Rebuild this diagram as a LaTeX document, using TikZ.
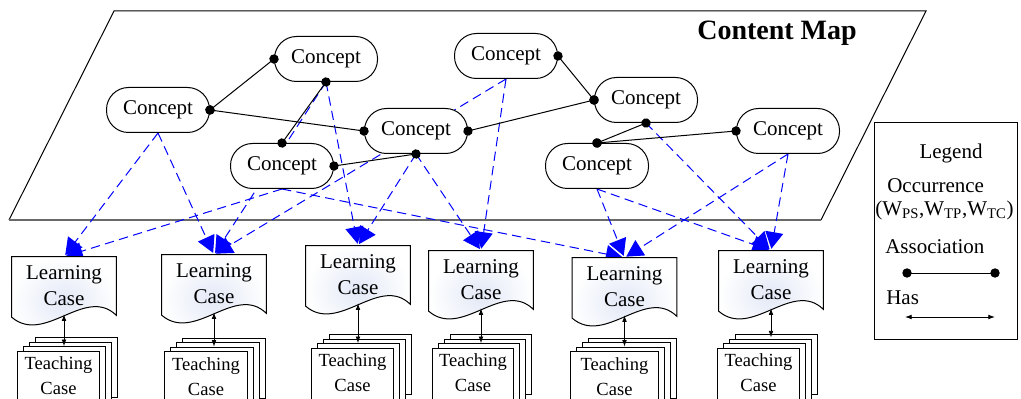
\documentclass[tikz,border=0pt]{standalone}
\usepackage{fontspec}
\setmainfont{Liberation Serif}
\usetikzlibrary{arrows.meta,calc}
\pgfdeclarelayer{back}
\pgfsetlayers{back,main}

\definecolor{occblue}{RGB}{0,0,255}
\definecolor{lcfill}{RGB}{226,232,246}
\definecolor{mapedge}{RGB}{105,105,105}

\begin{document}
\begin{tikzpicture}[x=0.75pt,y=-0.75pt,
  font=\fontsize{15.75}{19.5}\selectfont,
  concept/.style={draw, fill=white, line width=0.75pt, rounded corners=16.5pt,
    minimum width=77.25pt, minimum height=33.75pt, inner sep=0pt},
  lcase/.style={minimum width=78pt, minimum height=42.75pt, inner sep=0pt,
    align=center},
  tcase/.style={minimum height=36.75pt, inner sep=0pt, align=center,
    font=\fontsize{13.9}{18.75}\selectfont},
  doc/.style={draw, line width=0.75pt, inner color=lcfill, outer color=white},
  page/.style={draw, fill=white, line width=0.75pt},
  occ/.style={draw=occblue, line width=0.75pt, dash pattern=on 7pt off 4pt,
    -{Triangle[length=12.5pt,width=13.5pt]}, shorten >=1.5pt},
  assoc/.style={line width=0.75pt, {Circle[length=7pt]}-{Circle[length=7pt]},
    shorten <=-3.5pt, shorten >=-3.5pt},
  has/.style={line width=0.6pt, {Latex[length=5pt,width=3.5pt]}-{Latex[length=5pt,width=3.5pt]}},
  plain/.style={inner sep=0pt, anchor=west}
]
\useasboundingbox (0,0) rectangle (1021,399);

% corners of the content map plane
\coordinate (m1) at (114,11);
\coordinate (m2) at (926,11);
\coordinate (m3) at (821,220);
\coordinate (m4) at (9,220);
\node[font=\fontsize{21}{24}\selectfont\bfseries] (title) at (777,33) {Content Map};

% concepts
\node[concept] (C1) at (158,110) {Concept};
\node[concept] (C2) at (326,59) {Concept};
\node[concept] (C3) at (282,166) {Concept};
\node[concept] (C4) at (416,131) {Concept};
\node[concept] (C5) at (506,56) {Concept};
\node[concept] (C6) at (646,100) {Concept};
\node[concept] (C7) at (597,166) {Concept};
\node[concept] (C8) at (788,131) {Concept};

% learning cases
\node[lcase] (L1) at (64,285.5) {Learning\\Case};
\node[lcase] (L2) at (214,283.5) {Learning\\Case};
\node[lcase] (L3) at (358,274.5) {Learning\\Case};
\node[lcase] (L4) at (481,279.5) {Learning\\Case};
\node[lcase] (L5) at (624.5,286.5) {Learning\\Case};
\node[lcase] (L6) at (771,279.5) {Learning\\Case};

% teaching cases (front page of each stack)
\node[tcase, minimum width=60.75pt] (T1) at (58.5,376) {Teaching\\Case};
\node[tcase, minimum width=61.5pt] (T2) at (206,376.5) {Teaching\\Case};
\node[tcase, minimum width=60.75pt] (T3) at (352.5,373) {Teaching\\Case};
\node[tcase, minimum width=60pt] (T4) at (473,373) {Teaching\\Case};
\node[tcase, minimum width=65.25pt] (T5) at (614.5,376.5) {Teaching\\Case};
\node[tcase, minimum width=60.75pt] (T6) at (758.5,373) {Teaching\\Case};

\begin{pgfonlayer}{back}
  % content map plane
  \draw[line width=0.75pt] (m4) -- (m1) -- (m2) -- (m3);
  \draw[mapedge, line width=1.5pt] (m3) -- (m4);
  % occurrences
  \foreach \s/\t in {C1/L1, C1/L2, C2/L2, C2/L3, C3/L1, C3/L5, C4/L3, C4/L4,
                     C5/L2, C5/L4, C6/L6, C7/L5, C7/L6, C8/L5, C8/L6}
    \draw[occ] (\s.south) -- (\t.north);
  % learning case outlines
  \foreach \n in {L1,L2,L3,L4,L5,L6}
    \shadedraw[doc] (\n.north west) -- (\n.north east) -- ($(\n.south east)+(0,1)$)
      .. controls ($(\n.south east)+(-31,-29)$) and ($(\n.south west)+(33,31)$)
      .. ($(\n.south west)+(0,3)$) -- cycle;
  % stacked teaching case pages
  \foreach \n in {T1,T2,T3,T4,T5,T6}
    \foreach \k in {3,2,1,0}
      \filldraw[page] ($(\n.north west)+(6*\k,-4.5*\k)$)
        rectangle ($(\n.north east)+(6*\k,60-4.5*\k)$);
\end{pgfonlayer}

% associations between concepts
\draw[assoc] (C1.east) -- (C2.west);
\draw[assoc] (C1.east) -- (C4.west);
\draw[assoc] (C2.south) -- (C3.north);
\draw[assoc] (C4.south) -- (C3.east);
\draw[assoc] (C4.east) -- (C6.west);
\draw[assoc] (C5.east) -- (C6.west);
\draw[assoc] (C6.south) -- (C7.north);
\draw[assoc] (C7.north) -- (C8.west);

% learning case has teaching cases
\draw[has, shorten >=3.75pt] (L1.south) -- (L1.south |- T1.north);
\draw[has, shorten >=3.75pt] (L2.south) -- (L2.south |- T2.north);
\draw[has, shorten >=3.75pt] (L3.south) -- (L3.south |- T3.north);
\draw[has, shorten >=3.75pt] (L4.south) -- (L4.south |- T4.north);
\draw[has, shorten >=3.75pt] (L5.south) -- (L5.south |- T5.north);
\draw[has, shorten >=8pt] (L6.south) -- (L6.south |- T6.north);

% legend
\node[draw, line width=0.75pt, anchor=north west, inner sep=0pt,
  minimum width=107.25pt, minimum height=162.75pt] (legend) at (874,122) {};
\node (lgtitle) at (951,153) {Legend};
\node[plain] (lgocc) at (887,186) {Occurrence};
\node[plain] (lgw) at (875,210) {(W\textsubscript{PS},W\textsubscript{TP},W\textsubscript{TC})};
\node[plain] (lgassoc) at (885,247) {Association};
\coordinate (a1) at (907,273);
\coordinate (a2) at (995,273);
\draw[assoc] (a1) -- (a2);
\node[plain] (lghas) at (886,298) {Has};
\coordinate (h1) at (905,317);
\coordinate (h2) at (995,317);
\draw[has] (h1) -- (h2);
\end{tikzpicture}
\end{document}
